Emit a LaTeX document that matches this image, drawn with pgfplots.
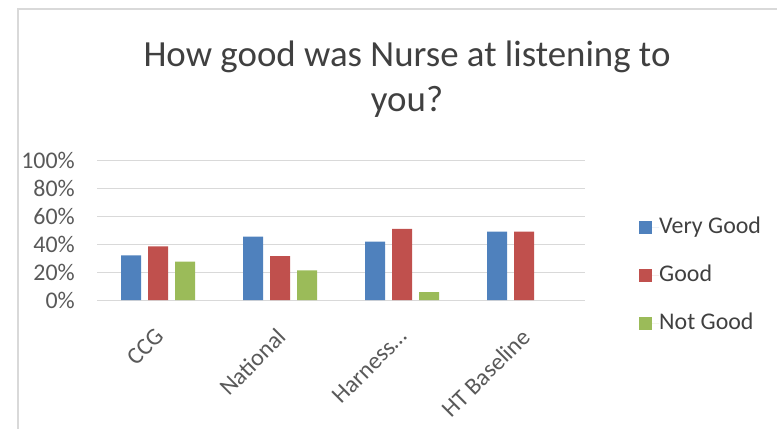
\documentclass[border=0pt]{standalone}
\usepackage{pgfplots}
\pgfplotsset{compat=1.18}
\usepackage{fontspec}
\setmainfont{Carlito}
\definecolor{vgood}{HTML}{4F81BD}
\definecolor{good}{HTML}{C0504D}
\definecolor{ngood}{HTML}{9BBB59}
\definecolor{gridc}{HTML}{D9D9D9}
\definecolor{txt}{HTML}{595959}
\definecolor{ttl}{HTML}{404040}
\begin{document}
\begin{tikzpicture}[x=1bp,y=1bp]
\path[use as bounding box] (0,0) rectangle (777,-429);
\draw[gridc, line width=1.5bp] (777,-9) -- (18,-9) -- (18,-429);
\node[anchor=base, font=\fontsize{37}{44}\selectfont, text=ttl, inner sep=0] at (407,-66) {How good was Nurse at listening to};
\node[anchor=base, font=\fontsize{37}{44}\selectfont, text=ttl, inner sep=0] at (407,-111) {you?};
\begin{axis}[
  at={(97bp,-300bp)}, anchor=south west,
  scale only axis, width=488bp, height=139.5bp,
  xmin=-0.5, xmax=3.5, ymin=0, ymax=100,
  axis line style={draw=none},
  major tick length=0pt,
  ymajorgrids, grid style={gridc, line width=1bp},
  ytick={0,20,40,60,80,100},
  yticklabels={0\%,20\%,40\%,60\%,80\%,100\%},
  xtick={0,1,2,3},
  xticklabels={CCG,National,Harness…,HT Baseline},
  ticklabel style={font=\fontsize{24}{28}\selectfont, text=txt},
  yticklabel style={anchor=east, inner sep=0pt, xshift=-22bp},
  xticklabel style={rotate=45, anchor=north east, inner sep=0pt, xshift=-22bp, yshift=-16bp},
  clip=false,
  bar width=20bp,
  legend style={at={(1.1107,0.1786)}, anchor=west, draw=none, fill=none,
    font=\fontsize{24}{28}\selectfont, text=ttl, inner sep=0pt, row sep=26bp,
    nodes={inner sep=0pt, text height=17bp, text depth=5bp}},
  legend cell align=left,
  legend image code/.code={\fill[#1] (0bp,-6.5bp) rectangle (13bp,6.5bp); \path (0bp,0bp) -- (20bp,0bp);},
]
\addplot[ybar, fill=vgood, draw=none, bar shift=-27bp] coordinates {(0,32) (1,45.4) (2,41.8) (3,49)};
\addlegendentry{Very Good}
\addplot[ybar, fill=good, draw=none, bar shift=0bp] coordinates {(0,38.5) (1,31.4) (2,51) (3,49)};
\addlegendentry{Good}
\addplot[ybar, fill=ngood, draw=none, bar shift=27bp] coordinates {(0,27.5) (1,21.3) (2,5.6)};
\addlegendentry{Not Good}
\end{axis}
\end{tikzpicture}
\end{document}
